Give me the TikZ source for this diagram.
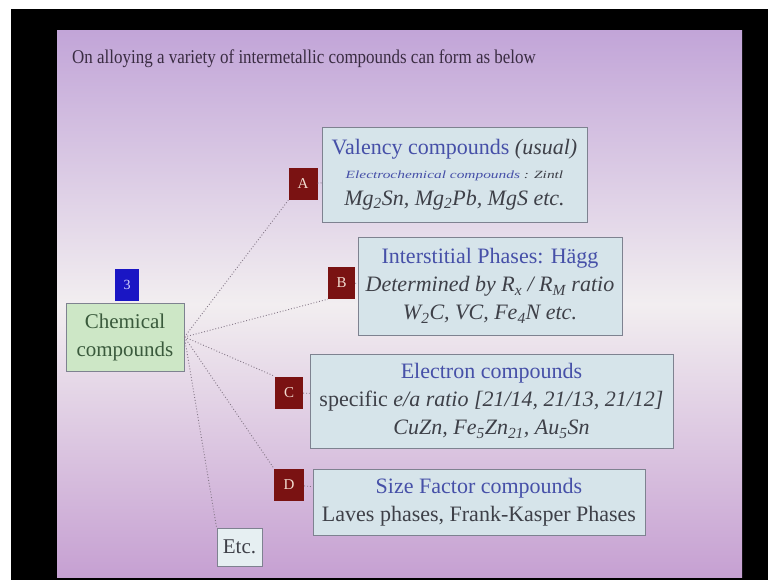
\documentclass[tikz,border=0pt]{standalone}
\usepackage{fontspec}
\setmainfont{Liberation Serif}
\usetikzlibrary{positioning}

\definecolor{slidetop}{HTML}{C2A5D8}
\definecolor{slidemid}{HTML}{F2EEF0}
\definecolor{slidebot}{HTML}{C6A0D2}
\definecolor{titlegray}{HTML}{3A2C42}
\definecolor{boxfill}{HTML}{D6E4EA}
\definecolor{boxline}{HTML}{7E8290}
\definecolor{headblue}{HTML}{4650A8}
\definecolor{bodygray}{HTML}{3E4048}
\definecolor{tagred}{HTML}{7A1212}
\definecolor{tagtext}{HTML}{F2DCD0}
\definecolor{numblue}{HTML}{1A16C4}
\definecolor{chemfill}{HTML}{CDE7C6}
\definecolor{chemtext}{HTML}{3A5A3C}
\definecolor{linkgray}{HTML}{857888}

\newcommand{\headtxt}[1]{{\color{headblue}#1}}
\newcommand{\sub}[1]{\textsubscript{#1}}

\begin{document}
\begin{tikzpicture}[x=1pt, y=-1pt,
  catbox/.style={draw=boxline, fill=boxfill, line width=0.9pt, align=center,
                 inner sep=0pt, text=bodygray, font=\fontsize{22}{28}\selectfont},
  tag/.style={fill=tagred, text=tagtext, minimum width=29pt, minimum height=32pt,
              inner sep=0pt, font=\fontsize{15}{17}\selectfont},
  link/.style={draw=linkgray, dotted, line width=0.9pt},
]

%% Slide background
\fill[white] (0,0) rectangle (768,580);
\fill[black] (11,9) rectangle (768,580);
\shade[top color=slidetop, bottom color=slidebot, middle color=slidemid]
  (57,31) rectangle (742,577);

%% Title
\node[anchor=west, text=titlegray, inner sep=0pt,
      font=\fontsize{19.5}{22}\selectfont\addfontfeatures{FakeStretch=0.87}]
  (title) at (72,59)
  {On alloying a variety of intermetallic compounds can form as below};

%% Nodes
\node[draw=boxline, fill=chemfill, text=chemtext, line width=0.9pt,
      minimum width=118pt, minimum height=68pt, align=center, inner sep=0pt,
      font=\fontsize{21}{28}\selectfont] (chem) at (125,337) {Chemical\\compounds};
\node[fill=numblue, text=white!85!blue, minimum width=24pt, minimum height=32pt,
      inner sep=0pt, font=\fontsize{14}{16}\selectfont] (num) at (127,285) {3};

\node[catbox, minimum width=265pt, minimum height=95pt] (abox) at (454.5,174.5)
  {\headtxt{Valency compounds} \textit{(usual)}\\[-4pt]
   {\fontsize{11}{14}\selectfont\addfontfeatures{FakeStretch=1.4}\itshape
    \headtxt{Electrochemical compounds} : Zintl}\\[-1pt]
   \textit{Mg\sub{2}Sn, Mg\sub{2}Pb, MgS etc.}};
\node[tag] (atag) at (303,184) {A};

\node[catbox, minimum width=264pt, minimum height=98pt] (bbox) at (490,286)
  {\headtxt{Interstitial Phases: Hägg}\\
   \textit{Determined by R\sub{x} / R\sub{M} ratio}\\
   \textit{W\sub{2}C, VC, Fe\sub{4}N etc.}};
\node[tag, minimum width=27pt] (btag) at (341.5,283) {B};

\node[catbox, minimum width=363pt, minimum height=94pt] (cbox) at (491.5,401)
  {\headtxt{Electron compounds}\\
   specific \textit{e/a ratio [21/14, 21/13, 21/12]}\\
   \textit{CuZn, Fe\sub{5}Zn\sub{21}, Au\sub{5}Sn}};
\node[tag, minimum width=28pt] (ctag) at (289,392.5) {C};

\node[catbox, minimum width=332pt, minimum height=66pt] (dbox) at (479,502)
  {\headtxt{Size Factor compounds}\\
   Laves phases, Frank-Kasper Phases};
\node[tag, minimum width=30pt] (dtag) at (289,484.5) {D};

\node[catbox, minimum width=45pt, minimum height=38pt, fill=boxfill!60!white,
      font=\fontsize{21}{24}\selectfont] (etc) at (239.5,547) {Etc.};

%% Links
\draw[link] (chem.east) -- (atag.south west);
\draw[link] (chem.east) -- (btag.south west);
\draw[link] (chem.east) -- (ctag.north west);
\draw[link] (chem.east) -- (dtag.north west);
\draw[link] (chem.east) -- (etc.north west);

\draw[link] (atag) -- (abox);
\draw[link] (btag) -- (bbox);
\draw[link] (ctag) -- (cbox);
\draw[link] (dtag) -- (dbox);

\end{tikzpicture}
\end{document}
